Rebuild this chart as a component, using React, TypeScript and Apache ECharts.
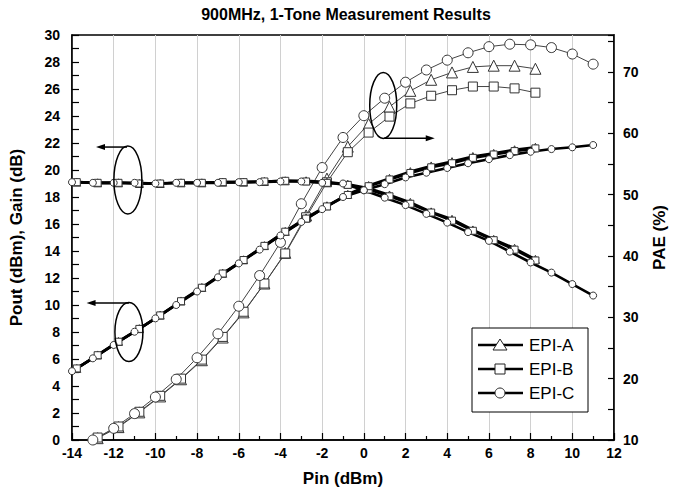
import React, { useEffect, useRef } from "react";
import * as echarts from "echarts";

const TITLE = "900MHz, 1-Tone Measurement Results";
const X_NAME = "Pin (dBm)";
const Y_LEFT_NAME = "Pout (dBm), Gain (dB)";
const Y_RIGHT_NAME = "PAE (%)";
const LEGEND_NAMES = ["EPI-A", "EPI-B", "EPI-C"];

// EPI-C sample points (Pin, dBm)
const X_C = [-14, -13, -12, -11, -10, -9, -8, -7, -6, -5, -4, -3, -2, -1, 0, 1, 2, 3, 4, 5, 6, 7, 8, 9, 10, 11];
const GAIN_C = [19.1, 19.05, 19.05, 19.05, 19.0, 19.05, 19.05, 19.05, 19.1, 19.1, 19.15, 19.15, 19.05, 19.0, 18.5, 17.95, 17.4, 16.75, 16.1, 15.4, 14.75, 13.95, 13.15, 12.4, 11.55, 10.7];
const POUT_C = [5.1, 6.05, 7.04, 8.02, 9.01, 10.0, 11.0, 12.05, 13.08, 14.1, 15.15, 16.15, 17.1, 18.0, 18.5, 18.95, 19.45, 19.8, 20.15, 20.5, 20.8, 21.1, 21.35, 21.55, 21.68, 21.85];
const PAE_C = [null, 10.0, 11.9, 14.3, 17.0, 19.9, 23.4, 27.3, 31.8, 36.8, 42.2, 48.5, 54.4, 59.3, 62.85, 65.7, 68.3, 70.3, 71.9, 73.1, 74.1, 74.5, 74.4, 73.95, 72.9, 71.25];

// EPI-A / EPI-B sample points (Pin, dBm)
const X_AB = [-13.77, -12.77, -11.77, -10.77, -9.77, -8.77, -7.77, -6.77, -5.77, -4.77, -3.77, -2.77, -1.77, -0.77, 0.23, 1.23, 2.23, 3.23, 4.23, 5.23, 6.23, 7.23, 8.23];
const GAIN_A = [19.1, 19.05, 19.05, 19.0, 19.0, 19.05, 19.05, 19.1, 19.1, 19.15, 19.2, 19.2, 19.1, 18.95, 18.65, 18.15, 17.6, 16.9, 16.35, 15.56, 14.86, 14.2, 13.38];
const POUT_A = [5.3, 6.3, 7.3, 8.25, 9.25, 10.3, 11.3, 12.35, 13.35, 14.4, 15.45, 16.45, 17.35, 18.2, 18.85, 19.38, 19.88, 20.3, 20.62, 21.0, 21.23, 21.5, 21.68];
const PAE_A = [null, 10.3, 12.1, 14.5, 17.1, 19.9, 23.0, 26.7, 30.8, 35.5, 40.5, 46.6, 52.6, 57.8, 61.5, 64.3, 66.9, 68.7, 69.9, 70.8, 71.0, 71.0, 70.5];
const GAIN_B = [19.1, 19.05, 19.05, 19.0, 19.0, 19.05, 19.05, 19.1, 19.1, 19.15, 19.2, 19.15, 19.05, 18.9, 18.55, 18.05, 17.5, 16.85, 16.25, 15.5, 14.8, 14.1, 13.3];
const POUT_B = [5.3, 6.28, 7.28, 8.23, 9.23, 10.28, 11.28, 12.33, 13.33, 14.38, 15.43, 16.4, 17.3, 18.15, 18.8, 19.3, 19.78, 20.2, 20.5, 20.9, 21.15, 21.4, 21.6];
const PAE_B = [null, 10.4, 12.2, 14.6, 17.2, 20.0, 23.1, 26.8, 30.9, 35.5, 40.4, 46.3, 52.0, 56.9, 60.1, 62.7, 64.85, 66.1, 67.0, 67.6, 67.6, 67.3, 66.6];

const FONT = "'Liberation Sans', Arial, sans-serif";

function zip(xs: number[], ys: (number | null)[]) {
  return xs.map((x, i) => [x, ys[i] == null ? "-" : ys[i]]);
}

export default function App() {
  const ref = useRef<HTMLDivElement>(null);
  useEffect(() => {
    if (!ref.current) return;
    const chart = echarts.init(ref.current, null, { renderer: "svg" });

    const markerStyle = { color: "#fff", borderColor: "#333", borderWidth: 1 };
    const thick = (name: string, xs: number[], ys: (number | null)[], symbol: string, size: number) => ({
      name,
      type: "line",
      yAxisIndex: 0,
      data: zip(xs, ys),
      symbol,
      symbolSize: size,
      showAllSymbol: true,
      lineStyle: { color: "#000", width: 2.6 },
      itemStyle: markerStyle,
      z: 3,
    });
    const thin = (name: string, xs: number[], ys: (number | null)[], symbol: string, size: number) => ({
      name,
      type: "line",
      yAxisIndex: 1,
      data: zip(xs, ys),
      symbol,
      symbolSize: size,
      showAllSymbol: true,
      lineStyle: { color: "#444", width: 1 },
      itemStyle: markerStyle,
      z: 2,
    });

    const axisLabel = { color: "#000", fontFamily: FONT, fontWeight: "bold", fontSize: 14 };
    const nameStyle = { color: "#000", fontFamily: FONT, fontWeight: "bold", fontSize: 17 };

    chart.setOption({
      animation: false,
      grid: { left: 69, right: 55, top: 35, bottom: 53, show: true, borderColor: "#000", borderWidth: 1.5 },
      xAxis: {
        type: "value",
        min: -14,
        max: 12,
        interval: 2,
        name: X_NAME,
        nameLocation: "middle",
        nameGap: 30,
        nameTextStyle: nameStyle,
        axisLine: { onZero: false, lineStyle: { color: "#000", width: 1.5 } },
        axisTick: { inside: true, length: 7, lineStyle: { color: "#000", width: 1.2 } },
        minorTick: { show: true, splitNumber: 2, length: 4, lineStyle: { color: "#000", width: 1.2 } },
        splitLine: { show: true, lineStyle: { color: "#d0d0d0", width: 1 } },
        axisLabel: { ...axisLabel, margin: 6 },
      },
      yAxis: [
        {
          type: "value",
          min: 0,
          max: 30,
          interval: 2,
          name: Y_LEFT_NAME,
          nameLocation: "middle",
          nameGap: 47,
          nameTextStyle: nameStyle,
          axisLine: { show: true, onZero: false, lineStyle: { color: "#000", width: 1.5 } },
          axisTick: { inside: true, length: 7, lineStyle: { color: "#000", width: 1.2 } },
          minorTick: { show: true, splitNumber: 2, length: 7, lineStyle: { color: "#000", width: 1.2 } },
          splitLine: { show: false },
          axisLabel: { ...axisLabel, margin: 12 },
        },
        {
          type: "value",
          position: "right",
          min: 10,
          max: 76,
          interval: 5,
          name: Y_RIGHT_NAME,
          nameLocation: "middle",
          nameGap: 37,
          nameRotate: 90,
          nameTextStyle: nameStyle,
          axisLine: { show: true, onZero: false, lineStyle: { color: "#000", width: 1.5 } },
          axisTick: { inside: true, length: 6, lineStyle: { color: "#000", width: 1.2 } },
          splitLine: { show: false },
          axisLabel: {
            ...axisLabel,
            margin: 9,
            formatter: (v: number) => (v % 10 === 0 && v <= 70 ? String(v) : ""),
          },
        },
      ],
      series: [
        thick("EPI-A Gain", X_AB, GAIN_A, "triangle", 8),
        thick("EPI-A Pout", X_AB, POUT_A, "triangle", 8),
        thick("EPI-B Gain", X_AB, GAIN_B, "rect", 7),
        thick("EPI-B Pout", X_AB, POUT_B, "rect", 7),
        thick("EPI-C Gain", X_C, GAIN_C, "circle", 7),
        thick("EPI-C Pout", X_C, POUT_C, "circle", 7),
        thin("EPI-A PAE", X_AB, PAE_A, "triangle", 11),
        thin("EPI-B PAE", X_AB, PAE_B, "rect", 9),
        thin("EPI-C PAE", X_C, PAE_C, "circle", 10),
      ],
    });

    const px = (x: number, y: number) => chart.convertToPixel({ xAxisIndex: 0, yAxisIndex: 0 }, [x, y]) as number[];

    const graphics: any[] = [];
    graphics.push({
      type: "text",
      x: 346,
      y: 14,
      style: { text: TITLE, fill: "#000", font: `bold 16px ${FONT}`, textAlign: "center", textVerticalAlign: "middle" },
    });

    const ellipse = (x: number, y: number, rx: number, ry: number) => {
      const [cx, cy] = px(x, y);
      graphics.push({ type: "ellipse", shape: { cx, cy, rx, ry }, style: { fill: "none", stroke: "#000", lineWidth: 1.5 }, z: 10 });
    };
    const arrow = (x1: number, x2: number, y: number) => {
      const [a, yy] = px(x1, y);
      const [b] = px(x2, y);
      const dir = b > a ? 1 : -1;
      graphics.push({ type: "line", shape: { x1: a, y1: yy, x2: b - dir * 6, y2: yy }, style: { stroke: "#000", lineWidth: 1.5 }, z: 10 });
      graphics.push({
        type: "polygon",
        shape: { points: [[b, yy], [b - dir * 9, yy - 3], [b - dir * 9, yy + 3]] },
        style: { fill: "#000" },
        z: 10,
      });
    };
    ellipse(-11.32, 19.26, 14, 34);
    arrow(-11.36, -12.85, 21.7);
    ellipse(-11.27, 8.0, 14, 29.5);
    arrow(-11.27, -13.3, 10.15);
    ellipse(0.93, 24.78, 13.5, 33);
    arrow(0.98, 3.4, 22.35);

    // legend box
    const lx = 472, ly = 328, lw = 116, lh = 84;
    graphics.push({ type: "rect", shape: { x: lx, y: ly, width: lw, height: lh }, style: { fill: "#fff", stroke: "#000", lineWidth: 1 }, z: 20 });
    const symbols = ["triangle", "rect", "circle"];
    LEGEND_NAMES.forEach((name, i) => {
      const y = ly + 17 + i * 24;
      graphics.push({ type: "line", shape: { x1: 478, y1: y, x2: 523, y2: y }, style: { stroke: "#000", lineWidth: 2.6 }, z: 21 });
      const s = symbols[i];
      const cx = 500;
      if (s === "triangle") {
        graphics.push({ type: "polygon", shape: { points: [[cx, y - 6], [cx - 7, y + 5], [cx + 7, y + 5]] }, style: { fill: "#fff", stroke: "#222", lineWidth: 1 }, z: 22 });
      } else if (s === "rect") {
        graphics.push({ type: "rect", shape: { x: cx - 5, y: y - 5, width: 10, height: 10 }, style: { fill: "#fff", stroke: "#222", lineWidth: 1 }, z: 22 });
      } else {
        graphics.push({ type: "circle", shape: { cx, cy: y, r: 5 }, style: { fill: "#fff", stroke: "#222", lineWidth: 1 }, z: 22 });
      }
      graphics.push({
        type: "text",
        x: 529,
        y,
        style: { text: name, fill: "#000", font: `17px ${FONT}`, textVerticalAlign: "middle" },
        z: 22,
      });
    });

    chart.setOption({ graphic: graphics });

    return () => chart.dispose();
  }, []);
  return <div ref={ref} style={{ position: "fixed", left: 0, top: 0, width: 676, height: 493, background: "#fff" }} />;
}
